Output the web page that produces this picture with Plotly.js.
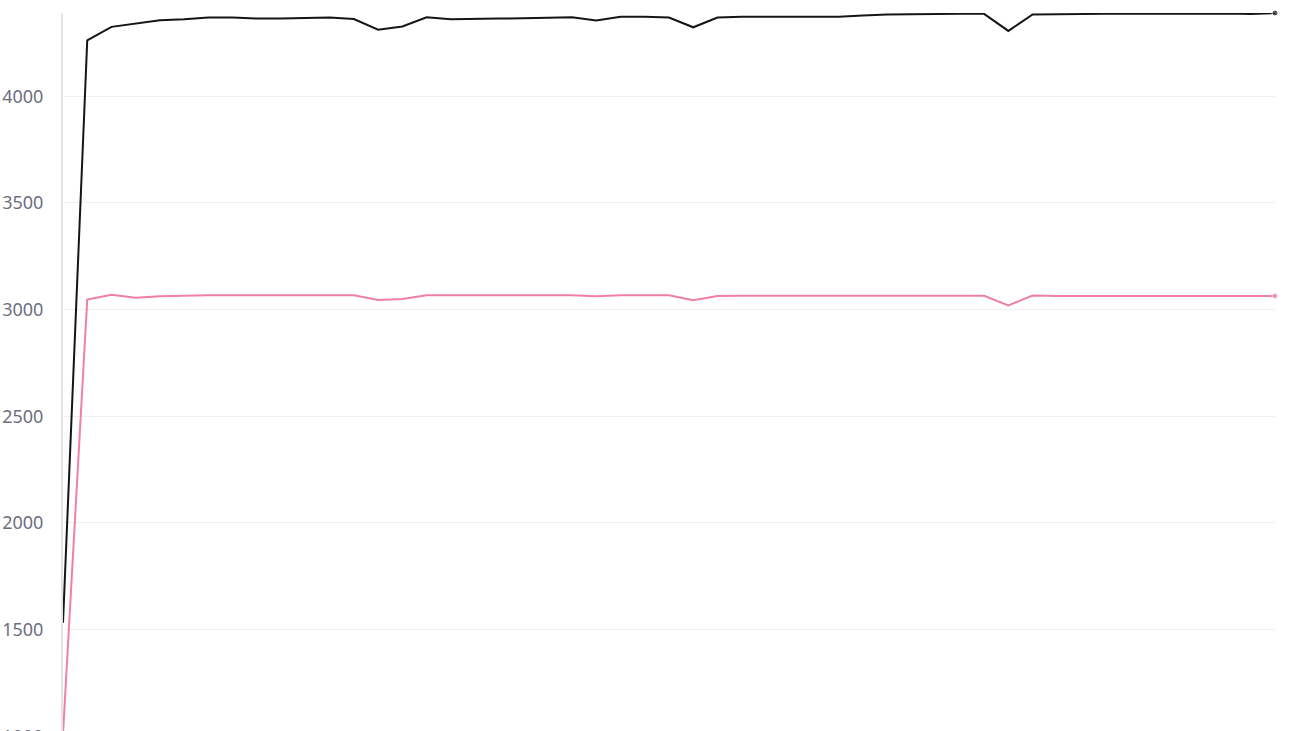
<!DOCTYPE html>
<html>
<head>
<meta charset="utf-8">
<script src="https://cdn.plot.ly/plotly-3.0.1.min.js"></script>
<style>
  html, body { margin: 0; padding: 0; overflow: hidden; background: #fff; }
  #chart { width: 1300px; height: 800px; }
</style>
</head>
<body>
<div id="chart"></div>
<script>
// one point per step
const steps = Array.from({ length: 51 }, (_, i) => i);

// upper (black) series
const blackValues = [
    1532, 4262, 4325, 4340, 4356, 4361, 4369, 4369, 4364, 4364,
    4367, 4369, 4362, 4312, 4327, 4370, 4361, 4364, 4364, 4365,
    4367, 4370, 4355, 4372, 4373, 4369, 4323, 4369, 4373, 4373,
    4373, 4373, 4372, 4378, 4383, 4384, 4386, 4386, 4386, 4306,
    4383, 4385, 4386, 4386, 4386, 4386, 4389, 4389, 4388, 4385,
    4390
];

// lower (pink) series
const pinkValues = [
    1010, 3047, 3070, 3056, 3062, 3066, 3067, 3067, 3067, 3067,
    3067, 3067, 3067, 3045, 3050, 3067, 3067, 3067, 3067, 3067,
    3067, 3067, 3062, 3067, 3067, 3067, 3044, 3064, 3065, 3065,
    3065, 3065, 3065, 3065, 3065, 3065, 3065, 3065, 3065, 3020,
    3066, 3064, 3064, 3064, 3064, 3064, 3064, 3064, 3064, 3064,
    3064
];

const yTicks = [1000, 1500, 2000, 2500, 3000, 3500, 4000];

// only the last point gets a dot
function endMarker(values, size) {
    return values.map((v, i) => i === values.length - 1 ? size : 0);
}

const blackTrace = {
    x: steps,
    y: blackValues,
    type: 'scatter',
    mode: 'lines+markers',
    line: { color: '#151515', width: 2 },
    marker: { color: '#151515', size: endMarker(blackValues, 6) },
    cliponaxis: false
};

const pinkTrace = {
    x: steps,
    y: pinkValues,
    type: 'scatter',
    mode: 'lines+markers',
    line: { color: '#ef7fa8', width: 2 },
    marker: { color: '#ef7fa8', size: endMarker(pinkValues, 6) },
    cliponaxis: false
};

const layout = {
    width: 1300,
    height: 800,
    margin: { l: 63, r: 25, t: 13, b: 21 },
    paper_bgcolor: '#ffffff',
    plot_bgcolor: '#ffffff',
    showlegend: false,
    font: { family: 'Noto Sans, sans-serif' },
    xaxis: {
        range: [0, 50],
        showgrid: false,
        zeroline: false,
        showline: false,
        showticklabels: false,
        ticks: ''
    },
    yaxis: {
        range: [800, 4390],
        tickvals: yTicks,
        ticktext: yTicks.map(String),
        showgrid: true,
        gridcolor: '#efefef',
        gridwidth: 1,
        zeroline: false,
        showline: true,
        linecolor: '#e4e4e4',
        linewidth: 2,
        ticks: '',
        ticklabelstandoff: 14,
        tickfont: { family: 'Noto Sans, sans-serif', size: 18, color: '#6e6e80' }
    }
};

const config = { displayModeBar: false, staticPlot: true };

Plotly.newPlot('chart', [blackTrace, pinkTrace], layout, config);
</script>
</body>
</html>
